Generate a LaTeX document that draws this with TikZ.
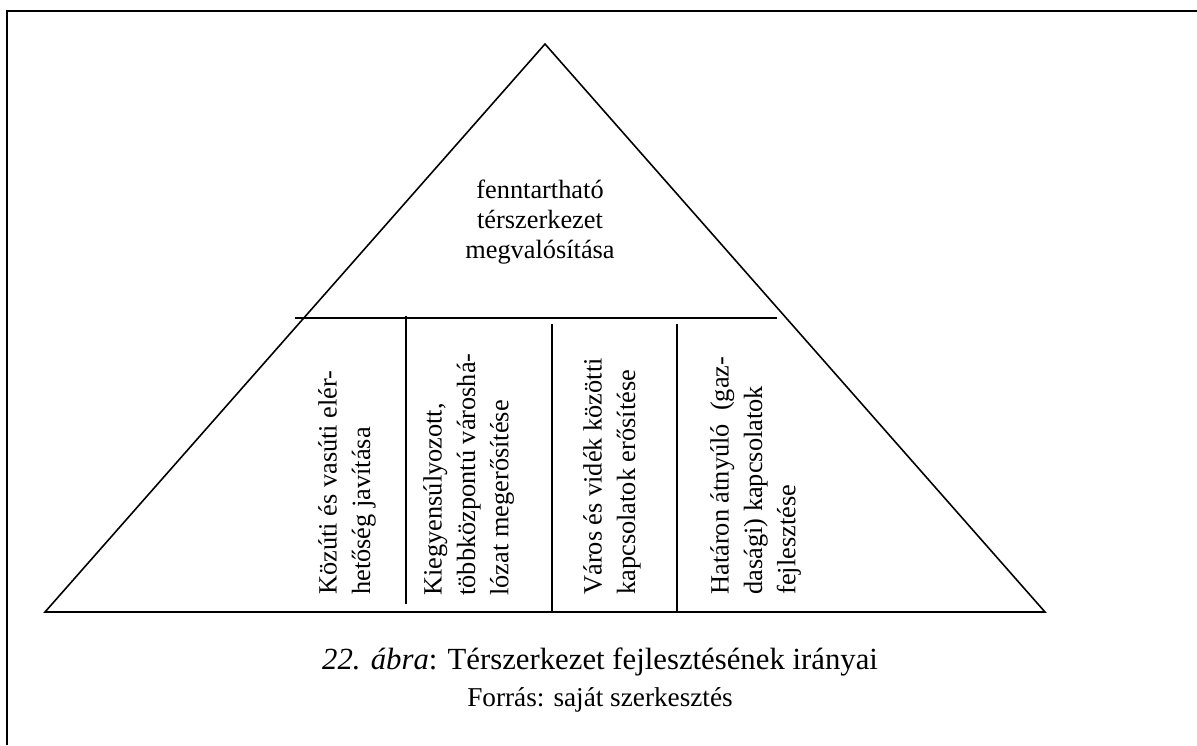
\documentclass[tikz,border=0pt]{standalone}
\usepackage{fontspec}
\setmainfont{Liberation Serif}
\usetikzlibrary{positioning}

\begin{document}
\begin{tikzpicture}[x=0.02cm, y=-0.02cm,
  frame/.style={line width=1.5pt},
  edge/.style={line width=0.9pt},
  column/.style={rotate=90, anchor=north west, align=left, inner sep=0pt, font=\fontsize{15}{19}\selectfont},
  goal/.style={align=center, inner sep=0pt, font=\fontsize{15}{17}\selectfont}]
  \useasboundingbox (0,0) rectangle (1197,745);
  \draw[frame] (7,745) -- (7,11) -- (1197,11);
  % the pyramid
  \coordinate (apex) at (545,44);
  \coordinate (baseL) at (45,612);
  \coordinate (baseR) at (1045,612);
  \draw[edge] (apex) -- (baseL) -- (baseR) -- cycle;
  \draw[edge] (295,318) -- (777,318);
  \draw[edge] (406,316) -- (406,604);
  \draw[edge] (552,324) -- (552,612);
  \draw[edge] (677,324) -- (677,612);
  % top
  \node[goal] (cel) at (540,222) {fenntartható\\térszerkezet\\megvalósítása};
  % columns
  \node[column] (kozut) at (318,595) {Közúti és vasúti elér-\\hetőség javítása};
  \node[column] (halozat) at (423,596) {Kiegyensúlyozott,\\többközpontú városhá-\\lózat megerősítése};
  \node[column] (varos) at (583,595) {Város és vidék közötti\\kapcsolatok erősítése};
  \node[column] (hatar) at (710,595) {Határon átnyúló \ (gaz-\\dasági) kapcsolatok\\fejlesztése};
  % caption
  \node[font=\fontsize{17.5}{20}\selectfont] (abra) at (600,662) {\textit{22. ábra}: Térszerkezet fejlesztésének irányai};
  \node[font=\fontsize{15.5}{18}\selectfont] (forras) at (600,700) {Forrás: saját szerkesztés};
\end{tikzpicture}
\end{document}
